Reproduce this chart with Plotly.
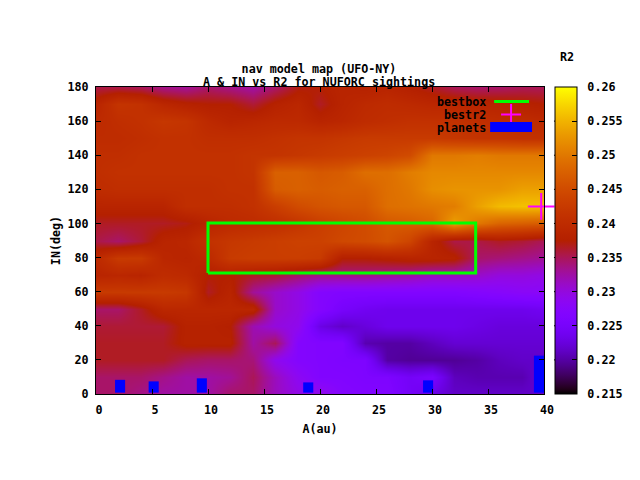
import math
import plotly.graph_objects as go

A_GRID = [0, 2, 4, 6, 8, 10, 12, 14, 16, 18, 20, 22, 24, 26, 28, 30, 32, 34, 36, 38, 40]
IN_GRID = [0, 10, 20, 30, 40, 50, 60, 70, 80, 90, 100, 110, 120, 130, 140, 150, 160, 170, 180]

in_180 = [.2355,.2355,.2350,.2335,.2330,.2345,.2335,.2325,.2345,.2370,.2375,.2385,.2380,.2385,.2375,.2365,.2350,.2345,.2345,.2350,.2350]
in_170 = [.2385,.2415,.2410,.2390,.2380,.2375,.2375,.2360,.2380,.2390,.2365,.2385,.2395,.2400,.2395,.2390,.2390,.2385,.2385,.2380,.2375]
in_160 = [.2395,.2405,.2410,.2420,.2415,.2395,.2385,.2390,.2395,.2395,.2385,.2390,.2400,.2405,.2410,.2410,.2410,.2405,.2400,.2400,.2395]
in_150 = [.2400,.2400,.2405,.2410,.2410,.2405,.2405,.2405,.2410,.2415,.2415,.2420,.2425,.2425,.2425,.2425,.2420,.2415,.2415,.2410,.2410]
in_140 = [.2405,.2405,.2410,.2410,.2410,.2410,.2410,.2415,.2415,.2420,.2425,.2430,.2435,.2440,.2450,.2500,.2500,.2505,.2500,.2500,.2500]
in_130 = [.2405,.2410,.2410,.2410,.2410,.2410,.2410,.2415,.2475,.2475,.2465,.2470,.2490,.2490,.2505,.2515,.2515,.2515,.2515,.2515,.2515]
in_120 = [.2400,.2405,.2405,.2405,.2405,.2405,.2410,.2410,.2470,.2475,.2470,.2475,.2475,.2490,.2500,.2520,.2525,.2525,.2525,.2535,.2535]
in_110 = [.2385,.2385,.2385,.2385,.2405,.2405,.2405,.2410,.2430,.2450,.2460,.2465,.2465,.2490,.2495,.2500,.2505,.2535,.2555,.2560,.2560]
in_100 = [.2365,.2365,.2365,.2365,.2370,.2385,.2395,.2400,.2405,.2415,.2430,.2440,.2450,.2465,.2470,.2480,.2535,.2500,.2480,.2475,.2470]
in_090 = [.2355,.2345,.2360,.2385,.2390,.2410,.2420,.2425,.2430,.2435,.2435,.2445,.2450,.2460,.2440,.2385,.2355,.2355,.2365,.2360,.2350]
in_080 = [.2395,.2425,.2425,.2390,.2385,.2395,.2425,.2430,.2430,.2430,.2425,.2375,.2375,.2380,.2385,.2385,.2380,.2345,.2340,.2335,.2330]
in_070 = [.2385,.2390,.2385,.2400,.2395,.2375,.2375,.2365,.2360,.2345,.2335,.2335,.2335,.2330,.2325,.2315,.2315,.2310,.2300,.2300,.2295]
in_060 = [.2425,.2425,.2425,.2425,.2420,.2365,.2385,.2330,.2310,.2295,.2270,.2265,.2265,.2265,.2265,.2265,.2265,.2270,.2275,.2280,.2280]
in_050 = [.2345,.2345,.2365,.2390,.2390,.2390,.2390,.2390,.2310,.2295,.2270,.2250,.2240,.2235,.2235,.2235,.2235,.2235,.2235,.2235,.2240]
in_040 = [.2360,.2360,.2360,.2360,.2380,.2380,.2375,.2320,.2300,.2290,.2230,.2215,.2225,.2235,.2235,.2235,.2235,.2230,.2225,.2225,.2225]
in_030 = [.2365,.2365,.2365,.2365,.2380,.2380,.2380,.2325,.2350,.2270,.2265,.2265,.2205,.2200,.2200,.2210,.2220,.2220,.2220,.2220,.2220]
in_020 = [.2365,.2365,.2365,.2365,.2350,.2345,.2345,.2340,.2290,.2270,.2265,.2260,.2260,.2200,.2195,.2195,.2195,.2200,.2210,.2215,.2215]
in_010 = [.2345,.2345,.2345,.2335,.2325,.2325,.2330,.2350,.2315,.2285,.2265,.2265,.2260,.2260,.2245,.2255,.2210,.2205,.2205,.2205,.2225]
in_000 = [.2345,.2345,.2335,.2325,.2325,.2325,.2345,.2345,.2315,.2295,.2295,.2270,.2265,.2265,.2245,.2230,.2215,.2215,.2215,.2215,.2215]

Z_ROWS = [in_000, in_010, in_020, in_030, in_040, in_050, in_060, in_070, in_080, in_090,
          in_100, in_110, in_120, in_130, in_140, in_150, in_160, in_170, in_180]

BOX_A = [10, 33.9, 33.9, 10, 10]
BOX_IN = [71, 71, 100.2, 100.2, 71]
BEST_A = [39.75]
BEST_IN = [110]
PLANET_A = [2.15, 5.15, 9.45, 18.95, 29.65, 39.55]
PLANET_TOP = [8.3, 7.4, 9.2, 6.8, 8.0, 22.5]
PLANET_BASE = 0.8
X_TICKS = [0, 5, 10, 15, 20, 25, 30, 35, 40]
Y_TICKS = [0, 20, 40, 60, 80, 100, 120, 140, 160, 180]
CB_TICKS = [.215, .22, .225, .23, .235, .24, .245, .25, .255, .26]
CB_LABELS = ["0.215", "0.22", "0.225", "0.23", "0.235", "0.24", "0.245", "0.25", "0.255", "0.26"]

FONT = "DejaVu Sans Mono"
FS = 11.7
TXT = dict(family=FONT, size=FS, color="black", weight="bold")
PAD = "\u00a0"

# The page body has an 8 px margin, so all page positions are offset by it.
L, R, T, B = 96, 545, 87, 394
OFF = 8


def pm3d(n=64):
    stops = []
    for i in range(n + 1):
        t = i / n
        r = math.sqrt(t)
        g = t ** 3
        b = max(0.0, math.sin(2 * math.pi * t))
        stops.append([t, f"rgb({round(r*255)},{round(g*255)},{round(b*255)})"])
    return stops


def px(x):
    return (x - L) / (R - L)


def py(y):
    return 1 - (y - T) / (B - T)


fig = go.Figure()
fig.add_trace(go.Heatmap(
    x=A_GRID, y=IN_GRID, z=Z_ROWS, zmin=.215, zmax=.26, zsmooth="best",
    colorscale=pm3d(), name="R2",
    colorbar=dict(
        x=px(555), xanchor="left", xpad=0, ypad=0, y=0.5, yanchor="middle",
        len=1, lenmode="fraction", thickness=22, outlinecolor="black", outlinewidth=1,
        tickmode="array", tickvals=CB_TICKS, ticktext=[PAD + s for s in CB_LABELS],
        ticks="inside", ticklen=5, tickcolor="black", tickwidth=1, tickfont=TXT,
    ),
))
fig.add_trace(go.Bar(
    x=PLANET_A, y=[t - PLANET_BASE for t in PLANET_TOP], base=PLANET_BASE, width=0.9,
    marker=dict(color="#0000ff", line=dict(width=0)), name="planets", cliponaxis=False,
))
fig.add_trace(go.Scatter(
    x=BOX_A, y=BOX_IN, mode="lines", line=dict(color="#00ff00", width=3), name="bestbox",
))
fig.add_trace(go.Scatter(
    x=BEST_A, y=BEST_IN, mode="markers", name="bestr2", cliponaxis=False,
    marker=dict(symbol="cross-thin", size=19, line=dict(color="#ff00ff", width=2)),
))

axis = dict(showgrid=False, zeroline=False, ticks="inside", ticklen=5, tickcolor="black",
            tickwidth=1, showline=True, linecolor="black", linewidth=1, mirror="ticks", tickfont=TXT)
fig.update_layout(
    width=632, height=472, autosize=False, showlegend=False,
    paper_bgcolor="white", plot_bgcolor="white",
    margin=dict(l=L - OFF, r=632 + OFF - R, t=T - OFF, b=472 + OFF - B),
    font=TXT,
    title=dict(text="nav model map (UFO-NY)", x=(319 - OFF) / 632, xanchor="center",
               y=1 - (69 - OFF) / 472, yanchor="middle", font=TXT),
    xaxis=dict(axis, range=[0, 40], tickvals=X_TICKS, ticklabelstandoff=5, ticklabelshift=3,
               title=dict(text="A(au)", standoff=8, font=TXT)),
    yaxis=dict(axis, range=[0, 180], tickvals=Y_TICKS, ticklabelstandoff=4,
               title=dict(text="IN(deg)", standoff=4, font=TXT)),
)
fig.add_annotation(text="A & IN vs R2 for NUFORC sightings", xref="paper", yref="paper",
                   x=px(319), y=py(81.5), yanchor="middle", xanchor="center",
                   showarrow=False, font=TXT)
fig.add_annotation(text="R2", xref="paper", yref="paper", x=px(568), y=py(57),
                   yanchor="middle", xanchor="center", showarrow=False, font=TXT)

LEG_ROWS = [("bestbox", 102), ("bestr2", 115), ("planets", 128)]
for label, row_y in LEG_ROWS:
    fig.add_annotation(text=label, xref="paper", yref="paper", x=px(489), y=py(row_y),
                       xanchor="right", yanchor="middle", showarrow=False, font=TXT)

fig.add_shape(type="line", xref="paper", yref="paper", x0=px(495), x1=px(530), y0=py(101.5), y1=py(101.5),
              line=dict(color="#00ff00", width=3))
fig.add_shape(type="line", xref="paper", yref="paper", x0=px(502), x1=px(522), y0=py(114.5), y1=py(114.5),
              line=dict(color="#ff00ff", width=2))
fig.add_shape(type="line", xref="paper", yref="paper", x0=px(512), x1=px(512), y0=py(104), y1=py(124),
              line=dict(color="#ff00ff", width=2))
fig.add_shape(type="rect", xref="paper", yref="paper", x0=px(491), x1=px(533), y0=py(122), y1=py(132),
              fillcolor="#0000ff", line=dict(width=0))
for v in CB_TICKS[1:-1]:
    yy = (v - .215) / .045
    fig.add_shape(type="line", xref="paper", yref="paper", x0=px(555), x1=px(560), y0=yy, y1=yy,
                  line=dict(color="black", width=1))

fig.write_html("out.html")
